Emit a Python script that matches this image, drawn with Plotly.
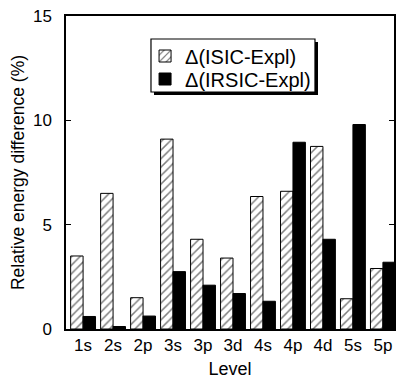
import plotly.graph_objects as go

levels = ["1s", "2s", "2p", "3s", "3p", "3d", "4s", "4p", "4d", "5s", "5p"]
isic_expl = [3.5, 6.5, 1.5, 9.1, 4.3, 3.4, 6.35, 6.6, 8.75, 1.45, 2.9]
irsic_expl = [0.6, 0.12, 0.62, 2.75, 2.1, 1.7, 1.33, 8.95, 4.3, 9.8, 3.2]
yticks = [0, 5, 10, 15]

FONT = "Liberation Sans"

fig = go.Figure()
fig.add_trace(go.Bar(
    x=levels, y=isic_expl, name="Δ(ISIC-Expl)", legend="legend",
    marker=dict(color="white", line=dict(color="black", width=1),
                pattern=dict(shape="/", fgcolor="black", bgcolor="white", size=6, solidity=0.25)),
))
fig.add_trace(go.Bar(
    x=levels, y=irsic_expl, name="Δ(IRSIC-Expl)", legend="legend2",
    marker=dict(color="black", line=dict(color="black", width=1)),
))

# legend box with drop shadow
fig.add_shape(type="rect", xref="paper", yref="paper",
              x0=0.2683, x1=0.7683, y0=0.7476, y1=0.9169,
              fillcolor="black", line=dict(width=0), layer="above")
fig.add_shape(type="rect", xref="paper", yref="paper",
              x0=0.2591, x1=0.7591, y0=0.7572, y1=0.9265,
              fillcolor="white", line=dict(color="black", width=1.2), layer="above")

leg_common = dict(x=0.241, xanchor="left", yanchor="middle",
                  bgcolor="rgba(0,0,0,0)", borderwidth=0, itemwidth=30,
                  font=dict(size=20, family=FONT))

fig.update_layout(
    width=397, height=379,
    margin=dict(l=66, r=3, t=16, b=50),
    paper_bgcolor="white", plot_bgcolor="white",
    barmode="group", bargap=0.17, bargroupgap=0,
    font=dict(family=FONT, size=17, color="black"),
    showlegend=True,
    legend=dict(y=0.8722, **leg_common),
    legend2=dict(y=0.7987, **leg_common),
)
fig.update_xaxes(
    range=[-0.57, 10.37], showline=True, linecolor="black", linewidth=1.5, mirror=True,
    ticks="", showgrid=False, tickfont=dict(size=17), automargin=False,
    title=dict(text="Level", font=dict(size=18), standoff=12),
)
fig.update_yaxes(
    range=[0, 15], tickvals=yticks, showline=True, linecolor="black", linewidth=1.5,
    mirror="ticks", ticks="inside", ticklen=5, tickcolor="black", showgrid=False,
    zeroline=False, tickfont=dict(size=17), ticklabelstandoff=9, automargin=False,
    title=dict(text="Relative energy difference (%)", font=dict(size=17.5), standoff=4),
)

fig.write_html("out.html", config={"displayModeBar": False},
               post_script="document.body.style.margin='0';")
